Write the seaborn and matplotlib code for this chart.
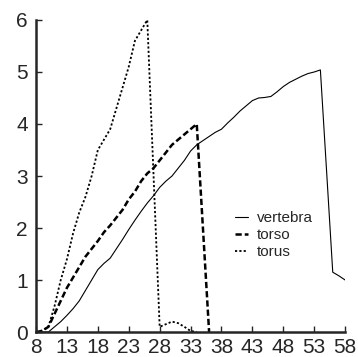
import numpy as np
import pandas as pd
import matplotlib
matplotlib.use('Agg')
import matplotlib.pyplot as plt
import seaborn as sns

x = list(range(8, 59))

vertebra = [0, 0, 0, 0.1, 0.2, 0.32, 0.45, 0.6, 0.8, 1.0,
            1.2, 1.32, 1.42, 1.6, 1.78, 1.97, 2.15, 2.32, 2.48, 2.62,
            2.78, 2.9, 3.0, 3.15, 3.3, 3.48, 3.6, 3.68, 3.76, 3.84,
            3.9, 4.02, 4.13, 4.25, 4.35, 4.45, 4.5, 4.51, 4.53, 4.62,
            4.72, 4.8, 4.86, 4.92, 4.97, 5.0, 5.04, 3.1, 1.15, 1.08,
            1.0]

# torso and torus stop once they reach zero
torso = [0, 0.02, 0.1, 0.35, 0.6, 0.85, 1.05, 1.25, 1.45, 1.6,
         1.75, 1.92, 2.05, 2.2, 2.35, 2.55, 2.7, 2.9, 3.05, 3.15,
         3.3, 3.45, 3.6, 3.7, 3.8, 3.9, 4.0, 2.0, 0.0]

torus = [0, 0.03, 0.1, 0.5, 1.0, 1.4, 1.9, 2.3, 2.6, 3.0,
         3.5, 3.7, 3.9, 4.3, 4.7, 5.1, 5.6, 5.8, 6.0, 3.05,
         0.1, 0.15, 0.2, 0.17, 0.1, 0.02, 0.0]

xticks = [8, 13, 18, 23, 28, 33, 38, 43, 48, 53, 58]
yticks = [0, 1, 2, 3, 4, 5, 6]

sns.set_style('ticks')
plt.rcParams['font.family'] = ['Liberation Sans', 'DejaVu Sans']

fig = plt.figure(figsize=(3.58, 3.57), dpi=100)
ax = fig.add_axes([0.1006, 0.07, 0.8634, 0.874])

sns.lineplot(x=x, y=vertebra, ax=ax, color='black', linewidth=0.8, label='vertebra')
sns.lineplot(x=x[:len(torso)], y=torso, ax=ax, color='black', linewidth=1.8, label='torso')
sns.lineplot(x=x[:len(torus)], y=torus, ax=ax, color='black', linewidth=1.3, label='torus')

lines = ax.get_lines()
lines[1].set_dashes([2.5, 1.2])
lines[2].set_dashes([1.2, 1.2])

ax.set_xlim(8, 58)
ax.set_ylim(0, 6)
ax.set_xticks(xticks)
ax.set_yticks(yticks)
ax.tick_params(direction='in', length=4, width=1, labelsize=15)
ax.tick_params(axis='x', pad=4)
ax.tick_params(axis='y', pad=6)
for s in ['top', 'right']:
    ax.spines[s].set_visible(False)
for s in ['left', 'bottom']:
    ax.spines[s].set_linewidth(1.8)

leg = ax.legend(loc='center left', bbox_to_anchor=(0.644, 0.311), frameon=False,
                fontsize=11, handlelength=0.85, handletextpad=0.55, labelspacing=0.2,
                borderpad=0, borderaxespad=0)

plt.savefig('out.png', dpi=100)
